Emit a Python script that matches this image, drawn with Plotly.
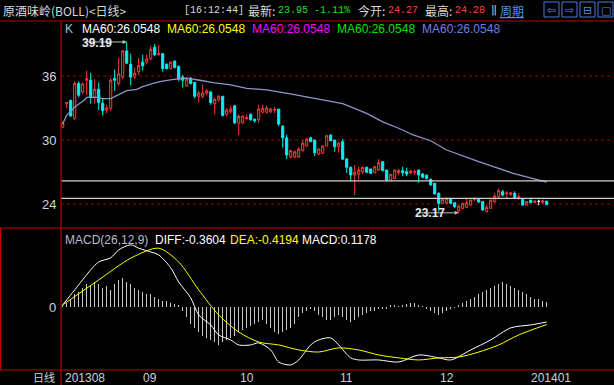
import plotly.graph_objects as go

# ---------------- data ----------------
opens = [31.2,33.4,33.7,32.0,35.3,34.5,35.6,35.6,34.0,34.75,33.45,32.8,32.97,35.78,35.3,35.9,38.35,37.1,35.9,36.4,
         37.3,37.3,37.6,38.7,38.0,38.1,37.1,36.7,37.4,36.9,35.9,35.06,35.8,35.4,34.1,34.1,34.4,34.5,33.4,33.75,
         34.1,32.4,32.65,33.2,31.57,31.6,32.0,32.4,31.95,31.9,32.6,32.6,32.65,32.8,32.9,31.3,30.2,28.4,28.4,28.4,
         29.0,29.44,30.2,30.0,28.66,28.75,29.44,30.47,30.0,29.37,29.84,28.22,27.44,26.72,26.8,27.03,27.44,27.28,26.93,27.19,
         27.97,27.19,26.25,26.4,26.93,27.12,27.03,26.9,26.98,27.19,26.81,26.7,26.3,25.94,25.0,24.06,24.12,24.53,24.12,23.34,
         23.6,23.69,23.9,24.4,24.44,24.22,23.28,23.6,24.22,24.69,25.15,24.98,24.87,25.0,24.53,24.44,23.9,24.37,24.16,24.25,
         24.16,24.27]
highs = [31.7,33.5,33.8,35.5,35.5,35.4,36.5,36.3,35.7,35.4,33.9,33.3,35.8,36.6,37.7,38.45,39.19,38.1,36.8,37.7,
         38.0,38.0,38.8,39.0,38.9,38.1,37.2,37.35,37.45,37.0,36.1,35.8,35.9,35.4,34.6,35.2,34.8,34.6,34.0,34.2,
         34.1,33.0,33.2,33.3,32.4,32.3,32.4,32.5,32.0,33.3,33.3,33.2,33.0,33.1,32.9,31.4,30.5,29.1,29.0,29.3,
         30.0,30.2,30.3,30.0,29.2,29.5,30.5,30.5,30.0,29.8,30.1,28.3,27.5,27.66,27.5,27.5,27.5,27.3,27.6,28.2,
         28.0,27.2,26.8,27.2,27.3,27.5,27.4,27.2,27.2,27.2,26.9,26.75,26.4,25.95,25.1,24.5,24.6,24.55,24.15,23.9,
         24.1,24.5,24.4,24.6,24.5,24.3,23.9,24.4,25.0,25.45,25.35,25.2,25.1,25.2,25.0,24.45,24.25,24.4,24.3,24.4,
         24.4,24.28]
lows = [31.1,33.0,32.2,31.9,34.0,34.3,34.2,33.4,33.4,32.8,32.3,32.5,32.7,34.6,35.1,35.7,37.1,35.1,35.7,36.1,
        36.5,37.1,37.5,37.85,37.9,36.4,36.6,36.6,36.7,35.5,34.9,35.0,35.2,33.9,33.5,33.9,34.2,33.3,32.4,33.6,
        32.2,32.2,32.5,31.5,30.5,31.5,31.9,31.8,31.6,31.6,32.5,32.5,32.5,32.5,31.3,29.3,28.2,28.3,28.3,28.3,
        28.9,29.4,29.8,28.5,28.6,28.7,29.4,29.9,28.9,28.8,28.2,26.9,26.16,24.84,26.3,26.8,26.9,26.8,26.9,27.1,
        27.1,26.1,26.1,26.3,26.7,26.6,26.6,26.8,26.7,26.0,26.4,26.3,25.7,24.9,23.3,24.0,24.0,24.0,23.6,23.17,
        23.5,23.6,23.85,24.3,24.1,23.4,23.2,23.55,24.1,24.55,24.7,24.5,24.8,24.45,24.4,23.85,23.85,24.1,24.1,23.9,
        24.0,23.95]
closes = [31.6,33.5,32.25,35.3,34.2,35.25,35.75,34.0,34.75,33.5,32.75,33.0,35.6,35.6,36.2,38.35,37.2,35.9,36.25,37.0,
          36.95,37.6,38.5,38.0,38.1,36.7,36.7,37.3,36.8,35.7,35.6,35.7,35.3,34.1,34.4,34.4,34.6,33.5,33.82,34.1,
          32.3,32.8,32.9,31.6,32.2,32.25,32.1,31.9,31.8,32.9,32.97,33.0,32.9,32.85,31.5,30.2,28.6,29.0,28.9,29.15,
          29.7,30.07,29.85,28.8,29.16,29.44,30.4,29.93,29.37,29.7,28.2,27.44,26.72,26.97,27.19,27.44,26.97,26.88,27.5,27.87,
          27.12,26.25,26.78,27.19,27.12,26.93,26.81,27.1,27.02,26.72,26.5,26.4,25.8,24.94,24.06,24.44,24.53,24.06,23.75,23.81,
          24.06,24.12,24.37,24.45,24.19,23.44,23.69,24.37,24.75,25.25,24.84,25.02,25.06,24.6,24.69,23.9,24.22,24.12,24.28,24.25,
          24.3,23.95]

ma_idx = [0,1,2,3,4.3,5.6,6,8.5,10,12,13,16,18.5,20,22.6,24.3,27.7,31,34.3,37.6,42,46,51,54,57.6,60.6,70,74,76,80,84,87.6,92,96,104,112.6,121]
ma_val = [31.5,32.34,32.66,33.1,33.44,33.8,34.0,34.0,33.87,33.87,34.06,34.62,34.75,35.0,35.3,35.47,35.69,35.8,35.6,35.37,35.16,34.84,34.69,34.53,34.28,34.06,33.4,32.8,32.5,31.7,31.1,30.47,29.93,29.06,27.97,26.88,26.05]

hlines = [26.16, 24.53]
price_ticks = [36, 30, 24]

diff_idx = [0,3,7,9,12,14,17,19,22,24,27,29,32,34,37,39,42,44,47,49,52,54,57,59,62,64,67,69,72,74,79,84,89,94,97,102,107,112,117,121]
diff_val = [0.05,0.41,0.89,1.08,1.18,1.37,1.49,1.41,1.32,1.25,0.94,0.6,0.22,-0.19,-0.43,-0.67,-0.79,-0.91,-0.91,-0.86,-1.03,-1.32,-1.39,-1.27,-0.91,-0.79,-0.74,-0.91,-1.22,-1.27,-1.27,-1.32,-1.15,-1.22,-1.27,-1.03,-0.79,-0.5,-0.43,-0.36]
dea_idx = [0,9,17,24,29,34,39,44,49,54,59,64,69,74,79,84,89,94,99,104,109,114,121]
dea_val = [0.05,0.65,1.17,1.41,1.08,0.41,-0.19,-0.6,-0.84,-0.91,-1.03,-1.08,-0.98,-1.03,-1.15,-1.22,-1.27,-1.22,-1.2,-1.08,-0.91,-0.67,-0.42]
macd_hist = [0.05,0.1,0.2,0.3,0.35,0.45,0.55,0.5,0.6,0.55,0.45,0.5,0.4,0.55,0.65,0.7,0.6,0.55,0.45,0.4,
             0.35,0.3,0.3,0.25,0.2,0.15,0.15,0.1,0.08,0.05,-0.1,-0.25,-0.4,-0.5,-0.6,-0.7,-0.75,-0.8,-0.85,-0.9,
             -0.85,-0.8,-0.75,-0.7,-0.6,-0.55,-0.5,-0.45,-0.4,-0.35,-0.3,-0.4,-0.5,-0.6,-0.65,-0.6,-0.55,-0.5,-0.4,-0.25,
             -0.15,-0.1,-0.05,-0.1,-0.2,-0.25,-0.3,-0.3,-0.25,-0.2,-0.25,-0.3,-0.35,-0.3,-0.25,-0.2,-0.15,-0.1,-0.1,-0.05,
             -0.05,-0.05,0.05,0.05,0.02,0.05,0.08,0.1,0.1,0.05,0.02,-0.05,-0.1,-0.15,-0.2,-0.15,-0.1,-0.05,-0.02,0.05,
             0.1,0.15,0.2,0.25,0.3,0.35,0.4,0.45,0.5,0.55,0.6,0.55,0.5,0.45,0.4,0.35,0.3,0.25,0.2,0.18,
             0.15,0.12]

month_idx = [0, 19.6, 43.8, 68.8, 93.8, 116.6]
month_lbl = ["201308", "09", "10", "11", "12", "201401"]

W, H = 614, 385
def px(x): return x / W
def py(y): return 1 - y / H

FONT = "Liberation Sans, Arial, Noto Sans CJK SC"
CJK = "Noto Sans CJK SC, Liberation Sans"
MONO = "Liberation Mono, DejaVu Sans Mono, Noto Sans CJK SC"

idx = list(range(len(opens)))
fig = go.Figure()

nd = [i for i in idx if opens[i] != closes[i]]
dj = [i for i in idx if opens[i] == closes[i]]
fig.add_trace(go.Candlestick(
    x=nd, open=[opens[i] for i in nd], high=[highs[i] for i in nd],
    low=[lows[i] for i in nd], close=[closes[i] for i in nd],
    increasing=dict(line=dict(color="#ff3b3b", width=1), fillcolor="#000000"),
    decreasing=dict(line=dict(color="#00f0f0", width=1), fillcolor="#00f0f0"),
    whiskerwidth=0, xaxis="x", yaxis="y", showlegend=False, hoverinfo="skip"))
if dj:
    fig.add_trace(go.Candlestick(
        x=dj, open=[opens[i] for i in dj], high=[highs[i] for i in dj],
        low=[lows[i] for i in dj], close=[closes[i] for i in dj],
        increasing=dict(line=dict(color="#ffffff", width=1), fillcolor="#ffffff"),
        decreasing=dict(line=dict(color="#ffffff", width=1), fillcolor="#ffffff"),
        whiskerwidth=0, xaxis="x", yaxis="y", showlegend=False, hoverinfo="skip"))

fig.add_trace(go.Scatter(x=ma_idx, y=ma_val, mode="lines",
                         line=dict(color="#8e95c8", width=1.3), xaxis="x", yaxis="y",
                         showlegend=False, hoverinfo="skip"))

fig.add_trace(go.Bar(x=idx, y=macd_hist, width=0.3, marker=dict(color="#c8c8c8", line=dict(width=0)),
                     xaxis="x2", yaxis="y2", showlegend=False, hoverinfo="skip"))
fig.add_trace(go.Scatter(x=diff_idx, y=diff_val, mode="lines",
                         line=dict(color="#ffffff", width=1, shape="spline", smoothing=0.8),
                         xaxis="x2", yaxis="y2", showlegend=False, hoverinfo="skip"))
fig.add_trace(go.Scatter(x=dea_idx, y=dea_val, mode="lines",
                         line=dict(color="#ffff00", width=1, shape="spline", smoothing=0.8),
                         xaxis="x2", yaxis="y2", showlegend=False, hoverinfo="skip"))

xr = [(61 - 62.7) / 4, (614 - 62.7) / 4]
p_lo = 24 - (228 - 204) / 10.667
p_hi = 24 + (204 - 21) / 10.667
m_scale = 41.7
m_lo = -(370 - 307) / m_scale
m_hi = (307 - 228) / m_scale

fig.update_layout(
    width=W, height=H, margin=dict(l=0, r=0, t=0, b=0),
    paper_bgcolor="#000000", plot_bgcolor="#000000",
    xaxis=dict(domain=[px(61), 1], range=xr, showgrid=False, zeroline=False, showticklabels=False,
               rangeslider=dict(visible=False), fixedrange=True, anchor="y"),
    yaxis=dict(domain=[py(228), py(21)], range=[p_lo, p_hi], showgrid=False, zeroline=False,
               showticklabels=False, anchor="x"),
    xaxis2=dict(domain=[px(61), 1], range=xr, showgrid=False, zeroline=False, showticklabels=False, anchor="y2"),
    yaxis2=dict(domain=[py(370), py(228)], range=[m_lo, m_hi], showgrid=False, zeroline=False,
                showticklabels=False, anchor="x2"),
    bargap=0, boxgap=0.25, showlegend=False,
)

shapes = []
for t in price_ticks:
    shapes.append(dict(type="line", xref="paper", yref="y", x0=px(61), x1=1, y0=t, y1=t,
                       line=dict(color="#a00000", width=1, dash="dot"), layer="below"))
for v in hlines:
    shapes.append(dict(type="line", xref="paper", yref="y", x0=px(61), x1=1, y0=v, y1=v,
                       line=dict(color="#d0d0d0", width=1.2)))
red = "#c00000"
for yy in (21, 228, 370):
    shapes.append(dict(type="line", xref="paper", yref="paper", x0=0, x1=1, y0=py(yy), y1=py(yy),
                       line=dict(color=red, width=1.2)))
shapes.append(dict(type="line", xref="paper", yref="paper", x0=px(61), x1=px(61), y0=py(21), y1=0,
                   line=dict(color=red, width=1.2)))
shapes.append(dict(type="line", xref="paper", yref="paper", x0=px(0.6), x1=px(0.6), y0=py(228), y1=py(370),
                   line=dict(color=red, width=1.2)))
for bx in (544, 562, 580, 598):
    shapes.append(dict(type="rect", xref="paper", yref="paper", x0=px(bx), x1=px(bx + 15), y0=py(2), y1=py(17),
                       line=dict(color="#4a7fd8", width=1), fillcolor="#000000"))
fig.update_layout(shapes=shapes)

ann = []
def txt(x, y, s, color="#d0d0d0", size=12, family=FONT, xanchor="left"):
    ann.append(dict(xref="paper", yref="paper", x=px(x), y=py(y), text=s, showarrow=False,
                    xanchor=xanchor, yanchor="middle", font=dict(color=color, size=size, family=family)))

# top bar
txt(1, 10, "原酒味岭(BOLL)&lt;日线&gt;", "#d8d8d8", 12, CJK)
txt(182, 10, "[16:12:44]", "#d8d8d8", 10, MONO)
txt(246, 10, "最新:", "#d8d8d8", 12, CJK)
txt(276, 10, "23.95", "#20e020", 10, MONO)
txt(312, 10, "-1.11%", "#20e020", 10, MONO)
txt(356, 10, "今开:", "#d8d8d8", 12, CJK)
txt(386, 10, "24.27", "#ff4040", 10, MONO)
txt(423, 10, "最高:", "#d8d8d8", 12, CJK)
txt(453, 10, "24.28", "#ff4040", 10, MONO)
txt(489, 10, "‖", "#d8d8d8", 10, MONO)
txt(498, 10, "<u>周期</u>", "#5a8ce8", 12, CJK)
for bx, g in zip((544, 562, 580, 598), ("⇦", "⇨", "⊟", "▢")):
    txt(bx + 7.5, 10, g, "#5a8ce8", 11, "DejaVu Sans", "center")

# legend line
txt(63, 29, "K", "#b8bcd0", 12)
ma_cols = ["#ffffff", "#ffff00", "#ff00ff", "#00e000", "#6f7fe8"]
for i, c in enumerate(ma_cols):
    txt(80 + i * 85, 29, "MA60:26.0548", c, 12)

for t in price_ticks:
    ann.append(dict(xref="paper", yref="y", x=px(58), y=t, text=str(t), showarrow=False, xanchor="right",
                    yanchor="middle", font=dict(color="#d0d4e0", size=13, family=FONT)))
ann.append(dict(xref="paper", yref="y2", x=px(58), y=0, text="0", showarrow=False, xanchor="right",
                yanchor="middle", font=dict(color="#d0d4e0", size=13, family=FONT)))

hi_i = highs.index(max(highs))
lo_i = lows.index(min(lows))
ann.append(dict(xref="x", yref="y", x=hi_i, y=max(highs), ax=-44, ay=0, axref="pixel", ayref="pixel",
                text="", showarrow=True, arrowhead=2, arrowsize=0.8, arrowwidth=1, arrowcolor="#c0c0c0"))
ann.append(dict(xref="x", yref="y", x=hi_i - 3.2, y=max(highs) - 0.1, text="<b>%.2f</b>" % max(highs), showarrow=False,
                xanchor="right", yanchor="middle", font=dict(color="#e8e8e8", size=12, family=FONT)))
ann.append(dict(xref="x", yref="y", x=lo_i, y=min(lows), ax=-42, ay=0, axref="pixel", ayref="pixel",
                text="", showarrow=True, arrowhead=2, arrowsize=0.8, arrowwidth=1, arrowcolor="#c0c0c0"))
ann.append(dict(xref="x", yref="y", x=lo_i - 3.0, y=min(lows), text="<b>%.2f</b>" % min(lows), showarrow=False,
                xanchor="right", yanchor="middle", font=dict(color="#e8e8e8", size=12, family=FONT)))

txt(63, 240, "MACD(26,12,9)", "#b8bcd0", 12)
txt(153, 240, "DIFF:-0.3604", "#ffffff", 12)
txt(228, 240, "DEA:-0.4194", "#ffff00", 12)
txt(300, 240, "MACD:0.1178", "#ffffff", 12)

txt(57, 377, "日线", "#d0d0d0", 11, CJK, "right")
for mi, ml in zip(month_idx, month_lbl):
    ann.append(dict(xref="x", yref="paper", x=mi, y=py(377.5), text=ml, showarrow=False, xanchor="left",
                    yanchor="middle", font=dict(color="#d0d0d0", size=12, family=FONT)))

fig.update_layout(annotations=ann)
fig.write_html("out.html", config={"displayModeBar": False, "staticPlot": True},
               post_script="document.body.style.margin='0';document.body.style.overflow='hidden';")
